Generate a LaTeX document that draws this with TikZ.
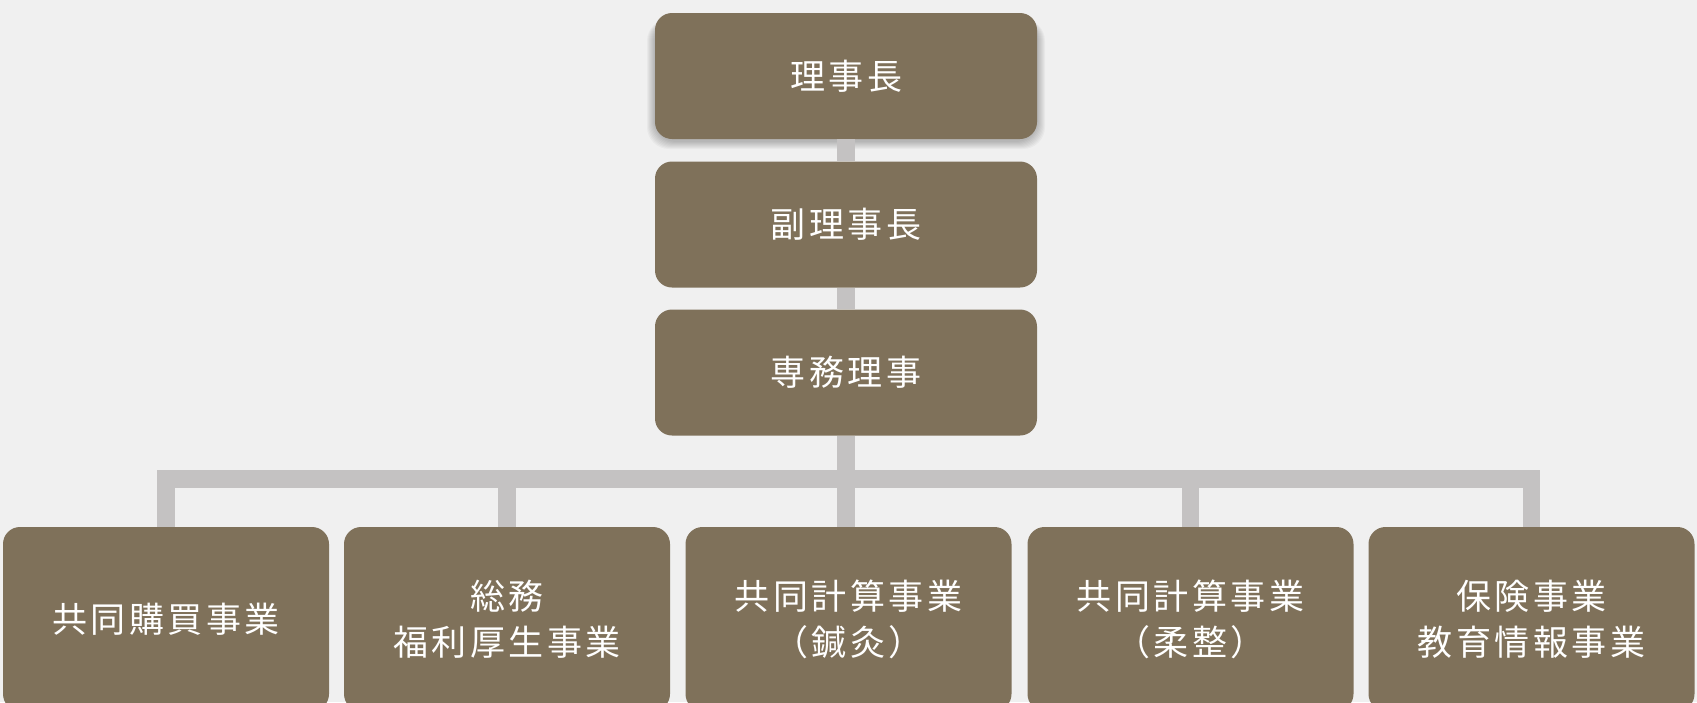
\documentclass[tikz,border=0pt]{standalone}
\usepackage{fontspec}
\newfontfamily\cjk{Noto Sans CJK JP}[LetterSpace=10]
\definecolor{bg}{HTML}{F0F0F0}
\definecolor{boxfill}{HTML}{7F715A}
\definecolor{connc}{HTML}{C4C2C2}
\tikzset{
  orgbox/.style={fill=boxfill, rounded corners=17pt, text=white, align=center,
    font=\cjk\fontsize{35}{46}\selectfont, inner sep=0pt},
  topbox/.style={orgbox, minimum width=382pt, minimum height=126pt},
  leafbox/.style={orgbox, minimum width=326pt, minimum height=184pt},
  conn/.style={draw=connc, line width=17.5pt, line join=miter},
  softshadow/.style={fill=black, opacity=0.03, rounded corners=22pt},
}
\begin{document}
\begin{tikzpicture}[x=1pt,y=-1pt]
\fill[bg] (0,0) rectangle (1697,702);
\useasboundingbox (0,0) rectangle (1697,702);
\clip (0,0) rectangle (1697,702);
% soft shadow of the top box
\coordinate (s1) at (655,13);
\coordinate (s2) at (1037,139);
\foreach \d in {1,2,...,8}{
  \fill[softshadow] ([shift={(-\d pt,-6pt)}]s1) rectangle ([shift={(\d pt,-2pt-\d pt)}]s2);
}
% top chain
\node[topbox] (b1) at (846,76) {理事長};
\node[topbox] (b2) at (846,224.5) {副理事長};
\node[topbox] (b3) at (846,372.5) {専務理事};
% leaves
\node[leafbox] (c1) at (166,619) {共同購買事業};
\node[leafbox] (c2) at (507,619) {総務\\福利厚生事業};
\node[leafbox] (c3) at (848.5,619) {共同計算事業\\（鍼灸）};
\node[leafbox] (c4) at (1190.5,619) {共同計算事業\\（柔整）};
\node[leafbox] (c5) at (1531.5,619) {保険事業\\教育情報事業};
\coordinate (bar) at (846,479);
% connectors
\draw[conn] (b1.south) -- (b2.north);
\draw[conn] (b2.south) -- (b3.north);
\draw[conn] (b3.south) -- (b3.south |- c3.north);
\draw[conn] (c1.north) -- (c1.north |- bar) -- (c5.north |- bar) -- (c5.north);
\draw[conn] (c2.north) -- (c2.north |- bar);
\draw[conn] (c4.north) -- (c4.north |- bar);
\end{tikzpicture}
\end{document}
